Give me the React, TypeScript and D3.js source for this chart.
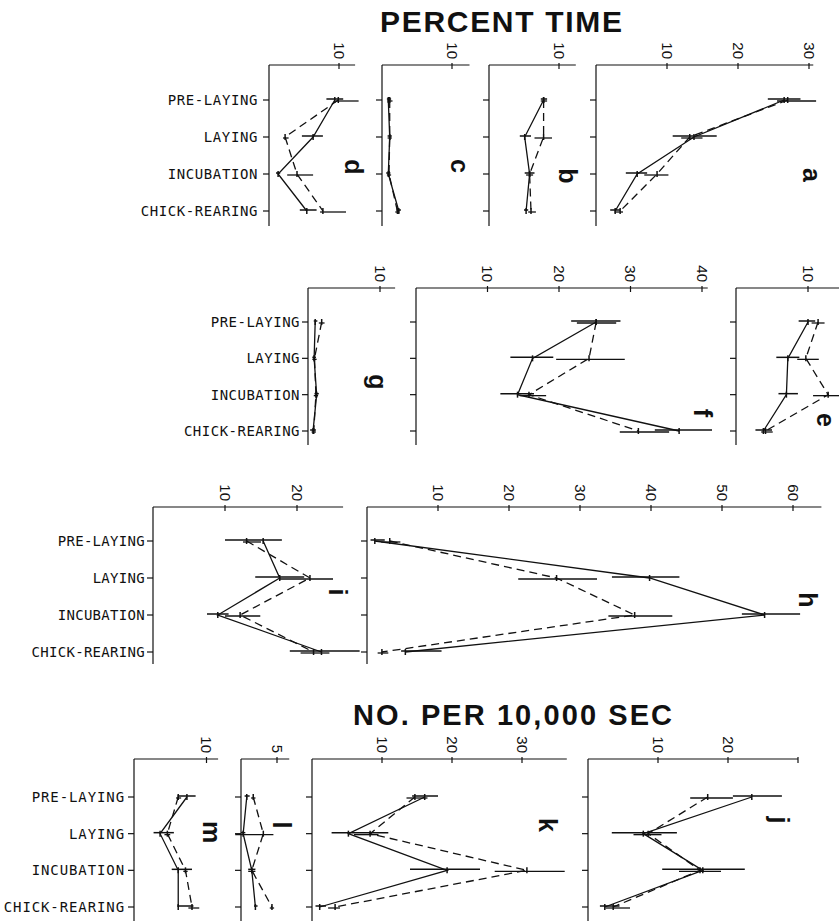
import React from "react";
import * as d3 from "d3";

const categories = ["PRE-LAYING", "LAYING", "INCUBATION", "CHICK-REARING"];

// values per panel: solid series, dashed series, and their error ranges (lo, hi)
const aSolid = [26.5, 13.8, 5.8, 2.7];
const aSolidErr = [[24.2, 28.8], [10.8, 17.0], [4.2, 7.2], [2.0, 3.4]];
const aDashed = [27.0, 13.2, 8.6, 3.4];
const aDashedErr = [[25.5, 31.0], [12.0, 15.0], [6.8, 10.2], [2.6, 3.8]];

const bSolid = [7.8, 5.1, 5.8, 5.3];
const bSolidErr = [[7.4, 8.3], [4.4, 6.0], [5.1, 6.5], [5.0, 5.6]];
const bDashed = [7.8, 7.8, 5.8, 6.0];
const bDashedErr = [[7.4, 8.3], [6.5, 9.0], [5.3, 6.3], [5.6, 6.7]];

const cSolid = [0.9, 1.1, 0.9, 2.4];
const cSolidErr = [[0.7, 1.3], [0.8, 1.4], [0.6, 1.2], [2.1, 2.7]];
const cDashed = [1.1, 1.1, 1.0, 2.2];
const cDashedErr = [[0.8, 1.5], [0.8, 1.4], [0.7, 1.3], [1.9, 2.5]];

const dSolid = [9.4, 6.3, 1.3, 5.4];
const dSolidErr = [[8.2, 10.6], [4.7, 7.7], [1.0, 1.6], [4.4, 6.8]];
const dDashed = [9.9, 2.3, 4.0, 7.7];
const dDashedErr = [[9.5, 12.8], [2.0, 2.8], [2.6, 6.3], [7.3, 11.0]];

const eSolid = [10.0, 7.2, 7.0, 3.8];
const eSolidErr = [[8.7, 11.0], [5.6, 8.8], [5.9, 8.6], [2.7, 5.0]];
const eDashed = [11.4, 9.7, 12.8, 4.1];
const eDashedErr = [[10.5, 12.3], [8.5, 11.5], [10.7, 14.6], [3.5, 5.1]];

const fSolid = [25.2, 16.3, 14.2, 36.8];
const fSolidErr = [[21.7, 28.6], [13.2, 19.2], [11.8, 16.5], [33.4, 41.4]];
const fDashed = [25.2, 24.2, 15.8, 31.1];
const fDashedErr = [[22.5, 28.0], [19.6, 29.2], [14.5, 18.2], [28.5, 35.4]];

const gSolid = [1.0, 0.85, 1.2, 0.7];
const gSolidErr = [[0.8, 1.3], [0.6, 1.1], [0.9, 1.5], [0.3, 1.1]];
const gDashed = [1.9, 0.9, 1.1, 0.8];
const gDashedErr = [[1.5, 2.3], [0.6, 1.2], [0.8, 1.4], [0.5, 1.1]];

const hSolid = [1.1, 39.8, 56.0, 5.4];
const hSolidErr = [[0.5, 2.5], [34.5, 44.0], [52.8, 61.0], [4.8, 10.5]];
const hDashed = [3.2, 26.7, 37.7, 2.1];
const hDashedErr = [[2.0, 4.7], [21.3, 32.4], [34.0, 43.0], [1.5, 3.0]];

const iSolid = [15.3, 17.6, 9.0, 23.4];
const iSolidErr = [[10.0, 17.9], [14.2, 21.0], [7.5, 10.5], [19.0, 28.7]];
const iDashed = [13.0, 21.8, 12.1, 22.3];
const iDashedErr = [[12.5, 15.0], [17.5, 25.0], [10.0, 14.9], [20.5, 24.5]];

const jSolid = [23.4, 7.9, 16.4, 2.4];
const jSolidErr = [[20.7, 27.7], [3.4, 12.7], [10.6, 22.4], [1.7, 4.5]];
const jDashed = [17.1, 8.6, 16.0, 3.6];
const jDashedErr = [[14.6, 20.7], [6.5, 10.5], [13.0, 19.0], [2.5, 6.0]];

const kSolid = [16.1, 5.2, 19.3, 1.1];
const kSolidErr = [[14.3, 18.0], [2.8, 10.9], [14.0, 24.0], [0.5, 2.0]];
const kDashed = [14.7, 8.3, 30.7, 3.3];
const kDashedErr = [[13.5, 16.5], [6.0, 9.5], [26.1, 36.1], [2.3, 4.0]];

const lSolid = [0.8, 0.3, 1.5, 2.0];
const lSolidErr = [[0.5, 1.2], [0.0, 0.6], [1.0, 2.0], [1.8, 2.3]];
const lDashed = [1.7, 3.1, 1.5, 4.3];
const lDashedErr = [[1.4, 2.0], [-0.8, 4.5], [1.0, 2.0], [4.0, 4.6]];

const mSolid = [7.3, 3.6, 6.1, 6.1];
const mSolidErr = [[6.0, 8.5], [2.7, 5.5], [5.2, 8.0], [6.0, 8.2]];
const mDashed = [6.1, 4.6, 7.1, 8.0];
const mDashedErr = [[5.8, 6.5], [4.2, 5.0], [6.8, 7.4], [7.5, 9.0]];

// row geometry
const rows = [
  { top: 65, bottom: 226, first: 100, last: 211, labelX: 258, ls: 0.6 },
  { top: 288, bottom: 445, first: 322, last: 431, labelX: 300, ls: 0.5 },
  { top: 507, bottom: 664, first: 541, last: 652, labelX: 145, ls: 0.3 },
  { top: 759, bottom: 935, first: 797, last: 907, labelX: 125, ls: 0.9 },
];

const panels = [
  { id: "a", row: 0, x0: 596, max: 30.6, k: 7.1, ticks: [10, 20, 30], shown: [10, 20, 30], letter: [812, 175], solid: aSolid, solidErr: aSolidErr, dashed: aDashed, dashedErr: aDashedErr },
  { id: "b", row: 0, x0: 489, max: 12.4, k: 7.0, ticks: [10], shown: [10], letter: [568, 176], solid: bSolid, solidErr: bSolidErr, dashed: bDashed, dashedErr: bDashedErr },
  { id: "c", row: 0, x0: 382, max: 12.5, k: 7.0, ticks: [10], shown: [10], letter: [460, 166], solid: cSolid, solidErr: cSolidErr, dashed: cDashed, dashedErr: cDashedErr },
  { id: "d", row: 0, x0: 269, max: 12.3, k: 7.0, ticks: [10], shown: [10], letter: [354, 167], solid: dSolid, solidErr: dSolidErr, dashed: dDashed, dashedErr: dDashedErr },
  { id: "e", row: 1, x0: 736, max: 15, k: 7.2, ticks: [10], shown: [10], letter: [826, 420], solid: eSolid, solidErr: eSolidErr, dashed: eDashed, dashedErr: eDashedErr },
  { id: "f", row: 1, x0: 416, max: 40.8, k: 7.15, ticks: [10, 20, 30, 40], shown: [10, 20, 30, 40], letter: [703, 413], solid: fSolid, solidErr: fSolidErr, dashed: fDashed, dashedErr: fDashedErr },
  { id: "g", row: 1, x0: 308, max: 12.1, k: 7.2, ticks: [10], shown: [10], letter: [378, 382], solid: gSolid, solidErr: gSolidErr, dashed: gDashed, dashedErr: gDashedErr },
  { id: "h", row: 2, x0: 367, max: 64, k: 7.1, ticks: [10, 20, 30, 40, 50, 60], shown: [10, 20, 30, 40, 50, 60], letter: [808, 600], solid: hSolid, solidErr: hSolidErr, dashed: hDashed, dashedErr: hDashedErr },
  { id: "i", row: 2, x0: 153, max: 26.4, k: 7.2, ticks: [10, 20], shown: [10, 20], letter: [338, 592], solid: iSolid, solidErr: iSolidErr, dashed: iDashed, dashedErr: iDashedErr },
  { id: "j", row: 3, x0: 588, max: 30, k: 7.0, ticks: [10, 20, 30], shown: [10, 20], letter: [780, 820], solid: jSolid, solidErr: jSolidErr, dashed: jDashed, dashedErr: jDashedErr },
  { id: "k", row: 3, x0: 312, max: 36.4, k: 7.0, ticks: [10, 20, 30], shown: [10, 20, 30], letter: [548, 825], solid: kSolid, solidErr: kSolidErr, dashed: kDashed, dashedErr: kDashedErr },
  { id: "l", row: 3, x0: 241, max: 6.7, k: 7.2, ticks: [5], shown: [5], letter: [282, 825], solid: lSolid, solidErr: lSolidErr, dashed: lDashed, dashedErr: lDashedErr },
  { id: "m", row: 3, x0: 134, max: 11.6, k: 7.25, ticks: [10], shown: [10], letter: [212, 832], solid: mSolid, solidErr: mSolidErr, dashed: mDashed, dashedErr: mDashedErr },
];

const ink = "#111";

function Panel({ p }: { p: (typeof panels)[number] }) {
  const r = rows[p.row];
  const x = d3.scaleLinear().domain([0, p.max]).range([p.x0, p.x0 + p.max * p.k]);
  const y = d3.scalePoint<string>().domain(categories).range([r.first, r.last]);
  const line = d3
    .line<number>()
    .x((v) => x(v))
    .y((_, i) => y(categories[i]) as number);

  return (
    <g>
      {/* axes */}
      <line x1={p.x0} x2={x(p.max)} y1={r.top} y2={r.top} stroke={ink} strokeWidth={1.2} />
      <line x1={p.x0} x2={p.x0} y1={r.top} y2={r.bottom} stroke={ink} strokeWidth={1.2} />
      {p.ticks.map((t) => (
        <g key={t}>
          <line x1={x(t)} x2={x(t)} y1={r.top - 2} y2={r.top + 4} stroke={ink} strokeWidth={1.2} />
          {p.shown.includes(t) && (
            <text
              transform={`translate(${x(t)},${r.top - 6}) rotate(90)`}
              textAnchor="end"
              dy="0.35em"
              fontFamily="'Liberation Sans', Arial, sans-serif"
              fontSize={15}
              fill={ink}
            >
              {t}
            </text>
          )}
        </g>
      ))}
      {categories.map((c) => (
        <line key={c} x1={p.x0 - 6} x2={p.x0} y1={y(c)} y2={y(c)} stroke={ink} strokeWidth={1.2} />
      ))}

      {/* error bars */}
      {p.solidErr.map(([lo, hi], i) => (
        <line key={"se" + i} x1={x(lo)} x2={x(hi)} y1={(y(categories[i]) as number) - 1} y2={(y(categories[i]) as number) - 1} stroke={ink} strokeWidth={1.5} />
      ))}
      {p.dashedErr.map(([lo, hi], i) => (
        <line key={"de" + i} x1={x(lo)} x2={x(hi)} y1={(y(categories[i]) as number) + 1} y2={(y(categories[i]) as number) + 1} stroke={ink} strokeWidth={1.3} />
      ))}

      {/* series */}
      <path d={line(p.solid) ?? ""} fill="none" stroke={ink} strokeWidth={1.3} />
      <path d={line(p.dashed) ?? ""} fill="none" stroke={ink} strokeWidth={1.3} strokeDasharray="8,5" />
      {[...p.solid, ...p.dashed].map((v, i) => {
        const cy = y(categories[i % 4]) as number;
        return <line key={"m" + i} x1={x(v)} x2={x(v)} y1={cy - 3} y2={cy + 3} stroke={ink} strokeWidth={1.5} />;
      })}

      <text
        transform={`translate(${p.letter[0]},${p.letter[1]}) rotate(90)`}
        textAnchor="middle"
        dy="0.35em"
        fontFamily="'Liberation Sans', Arial, sans-serif"
        fontWeight="bold"
        fontSize={25}
        fill={ink}
      >
        {p.id}
      </text>
    </g>
  );
}

export default function App() {
  return (
    <svg width={839} height={921} style={{ position: "absolute", left: 0, top: 0, background: "#fff" }}>
      <rect width={839} height={921} fill="#fff" />
      <text x={380} y={32} textLength={242} lengthAdjust="spacing" fontFamily="'Liberation Sans', Arial, sans-serif" fontWeight="bold" fontSize={30} fill={ink}>
        PERCENT TIME
      </text>
      <text x={353} y={725} textLength={319} lengthAdjust="spacing" fontFamily="'Liberation Sans', Arial, sans-serif" fontWeight="bold" fontSize={29} fill={ink}>
        NO. PER 10,000 SEC
      </text>

      {rows.map((r, ri) => {
        const y = d3.scalePoint<string>().domain(categories).range([r.first, r.last]);
        return categories.map((c) => (
          <text
            key={ri + c}
            x={r.labelX}
            y={y(c)}
            dy="0.35em"
            textAnchor="end"
            fontFamily="'DejaVu Sans Mono', monospace"
            fontSize={14}
            letterSpacing={r.ls}
            fill={ink}
          >
            {c}
          </text>
        ));
      })}

      {panels.map((p) => (
        <Panel key={p.id} p={p} />
      ))}
    </svg>
  );
}
